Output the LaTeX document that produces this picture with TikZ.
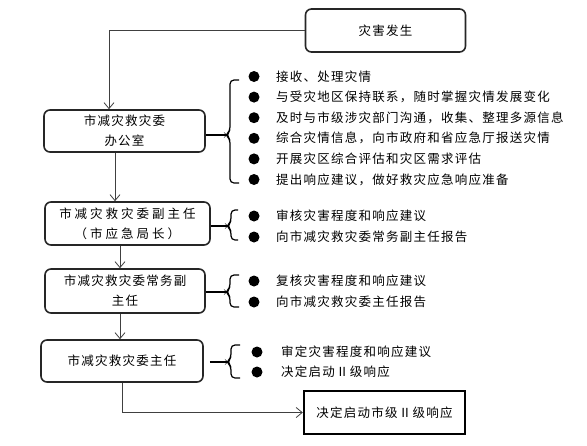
\documentclass[tikz,border=0pt]{standalone}
\usepackage{fontspec}
\setmainfont{Noto Sans CJK SC}[LetterSpace=10]
\newfontfamily\widefont{Noto Sans CJK SC}[LetterSpace=24]
\usetikzlibrary{arrows.meta}
\begin{document}
\begin{tikzpicture}[x=1pt,y=-1pt,
  rbox/.style={draw=black!85,line width=1.6pt,rounded corners=6pt,inner sep=0pt,align=center,font=\fontsize{12.5}{20}\selectfont},
  sbox/.style={draw=black,line width=2.4pt,inner sep=0pt,font=\fontsize{12.5}{20}\selectfont},
  arr/.style={draw=black!75,line width=0.8pt,-{Straight Barb[length=6pt,width=10pt]}},
  bracel/.style={draw=black,line width=1.2pt,rounded corners=4pt},
  stem/.style={draw=black,line width=1.6pt},
  dot/.style={circle,fill=black,inner sep=0pt,minimum size=11pt},
  item/.style={anchor=west,inner sep=0pt,font=\fontsize{12.5}{15}\selectfont}]
\useasboundingbox (0,0) rectangle (587,445);
\fill[white] (0,0) rectangle (587,445);

% boxes
\node[rbox,minimum width=160pt,minimum height=43pt] (b1) at (385.5,30.5) {灾害发生};
\node[rbox,minimum width=161pt,minimum height=42pt] (b2) at (124.5,131) {市减灾救灾委\\办公室};
\node[rbox,minimum width=165pt,minimum height=43pt] (b3) at (127.5,223.5) {{\widefont 市减灾救灾委副主任}\\{\widefont （市应急局长）}};
\node[rbox,minimum width=160pt,minimum height=44pt] (b4) at (125,291) {市减灾救灾委常务副\\主任};
\node[rbox,minimum width=162pt,minimum height=42pt] (b5) at (122,361) {市减灾救灾委主任};
\node[sbox,minimum width=161pt,minimum height=43pt] (b6) at (384.5,412.5) {决定启动市级Ⅱ级响应};

% connectors
\draw[arr] (b1.west) -| ([xshift=-15.5pt]b2.north);
\draw[arr] ([xshift=-9.5pt]b2.south) -- ([xshift=-9.5pt]b2.south |- b3.north);
\draw[arr] ([xshift=-7.5pt]b3.south) -- ([xshift=-7.5pt]b3.south |- b4.north);
\draw[arr] ([xshift=-5pt]b4.south) -- ([xshift=-5pt]b4.south |- b5.north);
\draw[arr] (b5.south) |- (b6.west);

% braces
\coordinate (m1) at (226,135);
\draw[stem] (b2.east |- m1) -- (m1);
\draw[bracel] (239,80) -- (230,80) -- (230,131) -- (m1) -- (230,139) -- (230,183) -- (239,183);
\coordinate (m2) at (227,226);
\draw[stem] (b3.east |- m2) -- (m2);
\draw[bracel] (238,210) -- (231,210) -- (231,222) -- (m2) -- (231,230) -- (231,240) -- (238,240);
\coordinate (m3) at (226,292);
\draw[stem] (b4.east |- m3) -- (m3);
\draw[bracel] (239,275) -- (230,275) -- (230,288) -- (m3) -- (230,296) -- (230,307) -- (239,307);
\coordinate (m4) at (227,362);
\draw[stem] ([xshift=6pt]b5.east |- m4) -- (m4);
\draw[bracel] (240,345) -- (231,345) -- (231,358) -- (m4) -- (231,366) -- (231,378) -- (240,378);

% group 1
\node[dot] (d11) at (254,76.5) {};
\node[item] (t11) at (276,76.5) {接收、处理灾情};
\node[dot] (d12) at (254,97.1) {};
\node[item] (t12) at (276,97.1) {与受灾地区保持联系，随时掌握灾情发展变化};
\node[dot] (d13) at (254,117.7) {};
\node[item] (t13) at (276,117.7) {及时与市级涉灾部门沟通，收集、整理多源信息};
\node[dot] (d14) at (254,138.3) {};
\node[item] (t14) at (276,138.3) {综合灾情信息，向市政府和省应急厅报送灾情};
\node[dot] (d15) at (254,158.9) {};
\node[item] (t15) at (276,158.9) {开展灾区综合评估和灾区需求评估};
\node[dot] (d16) at (254,179.5) {};
\node[item] (t16) at (276,179.5) {提出响应建议，做好救灾应急响应准备};

% group 2
\node[dot] (d21) at (254,216) {};
\node[item] (t21) at (276,216) {审核灾害程度和响应建议};
\node[dot] (d22) at (254,237) {};
\node[item] (t22) at (276,237) {向市减灾救灾委常务副主任报告};

% group 3
\node[dot] (d31) at (254,281) {};
\node[item] (t31) at (276,281) {复核灾害程度和响应建议};
\node[dot] (d32) at (254,302) {};
\node[item] (t32) at (276,302) {向市减灾救灾委主任报告};

% group 4
\node[dot] (d41) at (257,352) {};
\node[item] (t41) at (281,352) {审定灾害程度和响应建议};
\node[dot] (d42) at (257,372) {};
\node[item] (t42) at (281,372) {决定启动Ⅱ级响应};
\end{tikzpicture}
\end{document}
